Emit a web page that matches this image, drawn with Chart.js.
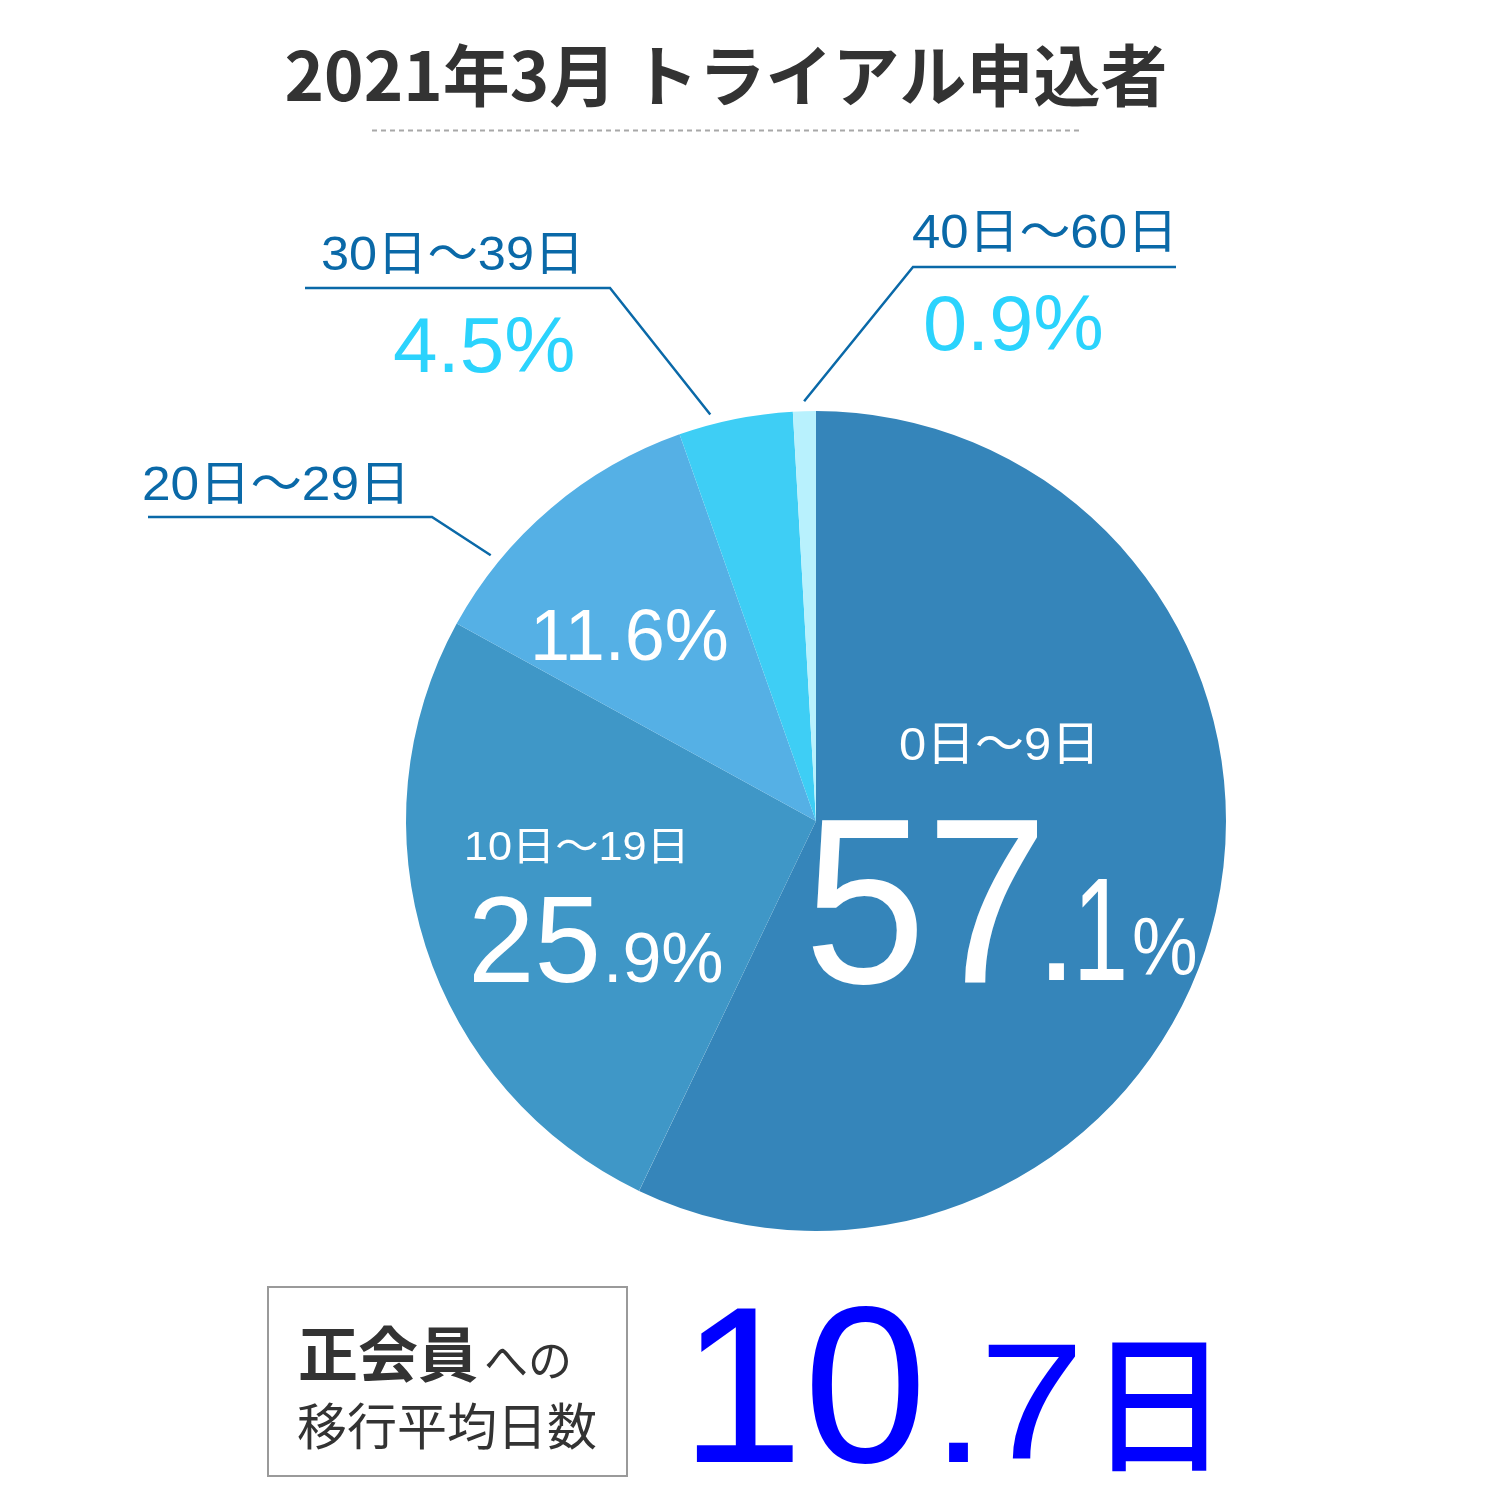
<!DOCTYPE html>
<html lang="ja">
<head>
    <meta charset="UTF-8">
    <title>2021年3月 トライアル申込者</title>
    <script src="https://cdn.jsdelivr.net/npm/chart.js"></script>
    <style>
        html, body {
            margin: 0;
            padding: 0;
            background: #fff;
        }
        #wrap {
            width: 1500px;
            height: 1500px;
            position: relative;
        }
    </style>
</head>
<body>
    <div id="wrap">
        <canvas id="pieChart" width="1500" height="1500"></canvas>
    </div>

    <script>
        // data (clockwise from 12 o'clock)
        const rangeLabels = ["0日〜9日", "10日〜19日", "20日〜29日", "30日〜39日", "40日〜60日"];
        const shares = [57.1, 25.9, 11.6, 4.5, 0.9];
        const sliceColors = ["#3585ba", "#3f97c7", "#55b0e5", "#3ecef5", "#b8f1fd"];

        const titleText = "2021年3月 トライアル申込者";
        const avgDays = "10.7";

        const NUM = '"Liberation Sans", Arial, "Noto Sans CJK JP", sans-serif';
        const JP = '"Noto Sans CJK JP", "Liberation Sans", sans-serif';
        const LINE_BLUE = "#0a69a8";
        const CYAN = "#2bd3fd";

        // one piece of text, squeezed/stretched horizontally by sx
        function txt(ctx, text, x, y, font, color, sx) {
            ctx.save();
            ctx.fillStyle = color;
            ctx.textBaseline = "alphabetic";
            ctx.textAlign = "left";
            ctx.font = font;
            ctx.translate(x, y);
            ctx.scale(sx || 1, 1);
            ctx.fillText(text, 0, 0);
            const w = ctx.measureText(text).width * (sx || 1);
            ctx.restore();
            return w;
        }

        function splitPct(v) {
            const s = v.toFixed(1);
            const i = s.indexOf(".");
            return [s.slice(0, i), s.slice(i + 1)];
        }

        const labelPlugin = {
            id: "labels",
            afterDraw(chart) {
                const ctx = chart.ctx;
                const arcs = chart.getDatasetMeta(0).data;

                // title + dashed rule
                ctx.save();
                ctx.font = "bold 67px " + JP;
                ctx.fillStyle = "#333";
                ctx.textAlign = "center";
                ctx.fillText(titleText, 726, 101);
                ctx.strokeStyle = "#a8a8a8";
                ctx.lineWidth = 2;
                ctx.setLineDash([5, 4]);
                ctx.beginPath();
                ctx.moveTo(372, 130.5);
                ctx.lineTo(1080, 130.5);
                ctx.stroke();
                ctx.restore();

                // leader lines for the small slices
                function leader(i, t, elbowX, elbowY, endX) {
                    const a = arcs[i];
                    const ang = a.startAngle + (a.endAngle - a.startAngle) * t;
                    const r = a.outerRadius + 10;
                    ctx.save();
                    ctx.strokeStyle = LINE_BLUE;
                    ctx.lineWidth = 2.5;
                    ctx.beginPath();
                    ctx.moveTo(a.x + Math.cos(ang) * r, a.y + Math.sin(ang) * r);
                    ctx.lineTo(elbowX, elbowY);
                    ctx.lineTo(endX, elbowY);
                    ctx.stroke();
                    ctx.restore();
                }
                leader(4, 0.5, 913, 267, 1176);
                leader(3, 0.3, 610, 288, 305);
                leader(2, 0.25, 432, 517, 148);

                // outside labels
                txt(ctx, rangeLabels[4], 912, 248, "48px " + NUM, LINE_BLUE, 1.06);
                txt(ctx, shares[4].toFixed(1) + "%", 923, 350, "77px " + NUM, CYAN, 1.03);
                txt(ctx, rangeLabels[3], 321, 270, "48px " + NUM, LINE_BLUE, 1.05);
                txt(ctx, shares[3].toFixed(1) + "%", 393, 372, "77px " + NUM, CYAN, 1.04);
                txt(ctx, rangeLabels[2], 142, 500, "48px " + NUM, LINE_BLUE, 1.07);

                // inside labels
                txt(ctx, shares[2].toFixed(1) + "%", 530, 660, "72px " + NUM, "#fff", 1.0);
                txt(ctx, rangeLabels[0], 899, 760, "47px " + NUM, "#fff", 1.04);
                txt(ctx, rangeLabels[1], 464, 860, "40px " + NUM, "#fff", 1.08);

                const p1 = splitPct(shares[1]);
                let w = txt(ctx, p1[0], 468, 982, "122px " + NUM, "#fff", 0.98);
                txt(ctx, "." + p1[1] + "%", 468 + w + 2, 982, "70px " + NUM, "#fff", 1.0);

                const p0 = splitPct(shares[0]);
                txt(ctx, p0[0], 804, 983, "236px " + NUM, "#fff", 0.93);
                txt(ctx, ".", 1035, 980, "155px " + NUM, "#fff", 1.0);
                txt(ctx, p0[1], 1073, 980, "146px " + NUM, "#fff", 0.68);
                txt(ctx, "%", 1132, 975, "82px " + NUM, "#fff", 0.9);

                // bottom box
                ctx.save();
                ctx.strokeStyle = "#9a9a9a";
                ctx.lineWidth = 2;
                ctx.strokeRect(268, 1287, 359, 189);
                ctx.restore();
                w = txt(ctx, "正会員", 298, 1377, "bold 60px " + JP, "#333");
                txt(ctx, "への", 298 + w + 6, 1377, "44px " + JP, "#333");
                txt(ctx, "移行平均日数", 297, 1445, "50px " + JP, "#333");

                const d = avgDays.split(".");
                txt(ctx, d[0], 680, 1462, "222px " + NUM, "#0000ff", 1.0);
                txt(ctx, ".", 931, 1462, "180px " + NUM, "#0000ff", 1.1);
                txt(ctx, d[1], 979, 1458, "165px " + NUM, "#0000ff", 1.15);
                txt(ctx, "日", 1089, 1460, "500 150px " + JP, "#0000ff", 0.93);
            }
        };

        new Chart(document.getElementById("pieChart"), {
            type: "pie",
            data: {
                labels: rangeLabels,
                datasets: [{
                    data: shares,
                    backgroundColor: sliceColors,
                    borderWidth: 0
                }]
            },
            options: {
                responsive: false,
                animation: false,
                devicePixelRatio: 1,
                layout: {
                    padding: { left: 406, right: 274, top: 411, bottom: 269 }
                },
                plugins: {
                    legend: { display: false },
                    tooltip: { enabled: false }
                }
            },
            plugins: [labelPlugin]
        });
    </script>
</body>
</html>
